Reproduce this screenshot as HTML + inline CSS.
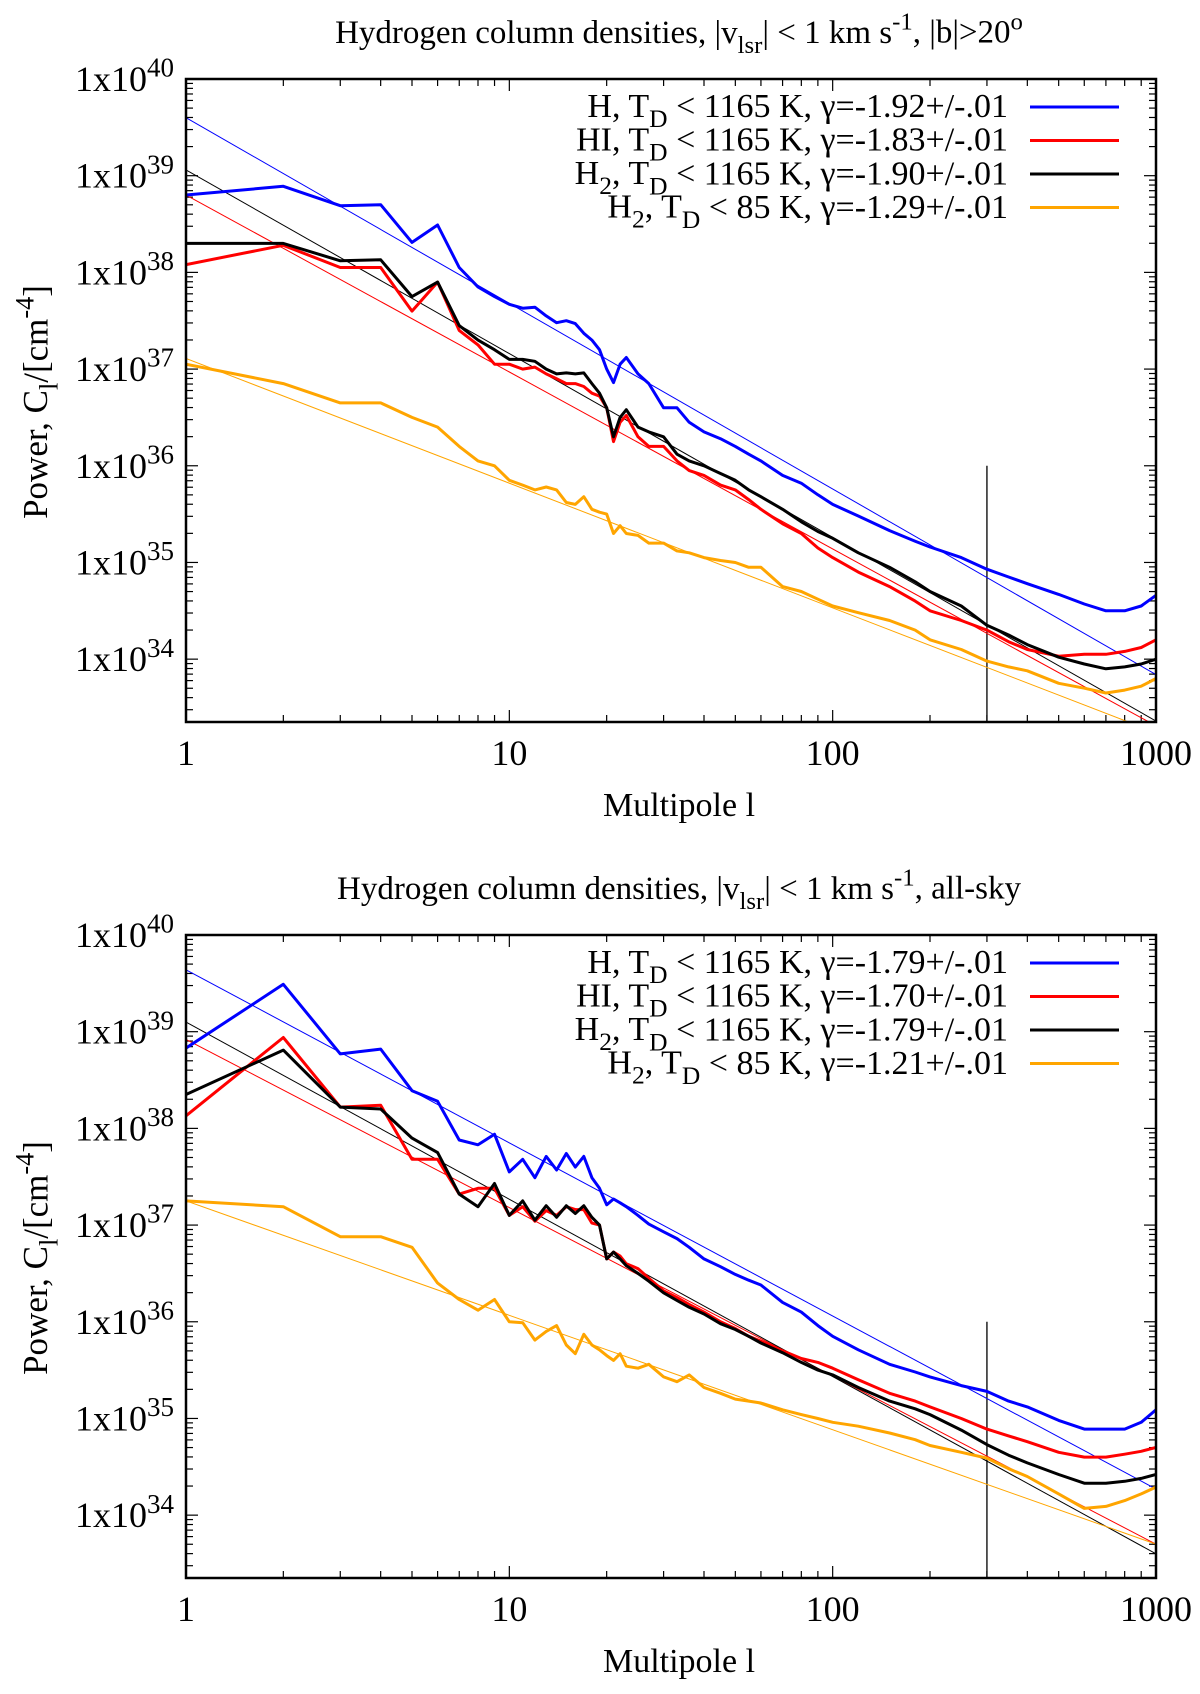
<!DOCTYPE html>
<html><head><meta charset="utf-8"><style>
html,body{margin:0;padding:0;background:#fff;}
svg{display:block;font-family:"Liberation Serif",serif;}
</style></head><body>
<svg id="chart" width="1200" height="1694" viewBox="0 0 1200 1694" xmlns="http://www.w3.org/2000/svg"></svg>
<script>
const multipoles = [1,2,3,4,5,6,7,8,9,10,11,12,13,14,15,16,17,18,19,20,21,22,23,25,27,30,33,36,40,45,50,55,60,70,80,90,100,120,150,180,200,250,300,350,400,500,600,700,800,900,1000];
const topH  = [38.8,38.89,38.69,38.7,38.31,38.49,38.05,37.85,37.75,37.67,37.63,37.64,37.55,37.48,37.5,37.47,37.37,37.3,37.2,37.0,36.86,37.05,37.12,36.95,36.85,36.6,36.6,36.45,36.35,36.28,36.2,36.12,36.05,35.9,35.82,35.7,35.6,35.48,35.33,35.22,35.16,35.05,34.93,34.85,34.78,34.67,34.57,34.5,34.5,34.55,34.66];
const topHI = [38.08,38.28,38.05,38.05,37.6,37.9,37.4,37.25,37.05,37.05,37.0,37.02,36.95,36.9,36.85,36.85,36.82,36.75,36.72,36.6,36.25,36.45,36.52,36.3,36.2,36.2,36.05,35.95,35.9,35.8,35.75,35.65,35.55,35.4,35.3,35.15,35.05,34.9,34.75,34.6,34.5,34.4,34.3,34.18,34.1,34.03,34.05,34.05,34.08,34.12,34.2];
const topH2 = [38.3,38.3,38.12,38.13,37.75,37.9,37.45,37.3,37.2,37.1,37.1,37.08,37.0,36.95,36.96,36.95,36.96,36.85,36.75,36.6,36.3,36.5,36.58,36.4,36.35,36.3,36.12,36.05,36.0,35.92,35.85,35.75,35.68,35.55,35.42,35.32,35.25,35.1,34.95,34.8,34.7,34.55,34.35,34.25,34.15,34.02,33.95,33.9,33.92,33.95,34.0];
const topCold = [37.05,36.85,36.65,36.65,36.5,36.4,36.2,36.05,36.0,35.85,35.8,35.75,35.78,35.75,35.62,35.6,35.68,35.55,35.52,35.5,35.3,35.38,35.3,35.28,35.2,35.2,35.12,35.1,35.05,35.02,35.0,34.95,34.95,34.75,34.7,34.62,34.55,34.48,34.4,34.3,34.2,34.1,33.98,33.92,33.88,33.75,33.7,33.65,33.68,33.72,33.8];
const botH  = [38.83,39.49,38.77,38.82,38.39,38.28,37.88,37.83,37.94,37.55,37.68,37.49,37.71,37.57,37.74,37.6,37.71,37.49,37.38,37.21,37.27,37.23,37.19,37.1,37.01,36.93,36.86,36.77,36.65,36.57,36.49,36.43,36.38,36.2,36.1,35.96,35.85,35.71,35.56,35.48,35.43,35.34,35.28,35.18,35.12,34.98,34.89,34.89,34.89,34.96,35.09];
const botHI = [38.13,38.94,38.22,38.24,37.68,37.68,37.32,37.38,37.38,37.1,37.19,37.04,37.15,37.1,37.19,37.16,37.16,37.02,37.0,36.65,36.72,36.68,36.6,36.55,36.45,36.32,36.25,36.18,36.1,36.0,35.93,35.85,35.8,35.7,35.62,35.58,35.52,35.4,35.26,35.18,35.12,35.0,34.89,34.82,34.76,34.65,34.6,34.6,34.63,34.66,34.7];
const botH2 = [38.35,38.81,38.22,38.2,37.9,37.75,37.32,37.19,37.43,37.1,37.25,37.05,37.2,37.08,37.2,37.12,37.2,37.08,37.0,36.65,36.72,36.65,36.58,36.5,36.42,36.3,36.22,36.15,36.08,35.98,35.92,35.85,35.78,35.68,35.58,35.5,35.45,35.32,35.18,35.1,35.04,34.88,34.73,34.62,34.54,34.42,34.33,34.33,34.35,34.38,34.42];
const botCold = [37.25,37.19,36.88,36.88,36.77,36.4,36.23,36.12,36.23,36.0,35.99,35.81,35.9,35.96,35.76,35.67,35.87,35.76,35.71,35.65,35.6,35.67,35.54,35.52,35.56,35.43,35.38,35.45,35.32,35.26,35.2,35.18,35.16,35.09,35.04,35.0,34.96,34.92,34.85,34.78,34.72,34.65,34.59,34.48,34.4,34.22,34.07,34.09,34.15,34.22,34.29];
const topFitStart = [39.6,38.8,39.06,37.11];
const topFitEnd = [33.84,33.31,33.36,33.24];
const botFitStart = [39.64,38.92,39.1,37.25];
const botFitEnd = [34.27,33.7,33.6,33.7];
const topGammas = ["-1.92","-1.83","-1.90","-1.29"];
const botGammas = ["-1.79","-1.70","-1.79","-1.21"];
const yTickExps = [34,35,36,37,38,39,40];
const xTickVals = [1,10,100,1000];
const cutoffL = 300;

const NS = "http://www.w3.org/2000/svg";
const svg = document.getElementById('chart');
const colors = ['#0000ff','#ff0000','#000000','#ffa500'];
function mk(tag, attrs, parent){const e=document.createElementNS(NS,tag);for(const k in attrs)e.setAttribute(k,attrs[k]);(parent||svg).appendChild(e);return e;}
function txt(parent, x, y, parts, size, anchor, name){
  const t=mk('text',{x:x,y:y,'font-size':size,'text-anchor':anchor||'middle',fill:'#000'},parent);
  
  
  parts.forEach(p=>{const s=mk('tspan',{},t);
    if(p[1]==='sub'){s.setAttribute('dy',size*0.3);s.setAttribute('font-size',size*0.75);}
    else if(p[1]==='sup'){s.setAttribute('dy',-size*0.4);s.setAttribute('font-size',size*0.75);}
    else if(p[1]==='back'){s.setAttribute('dy',p[2]);}
    s.textContent=p[0];});
  return t;
}
function panel(pi, top, series, fs, fe, gammas, titleParts){
  const L=186,R=1156,T=top,B=top+643,ymin=33.35,ymax=40;
  const X=l=>L+(Math.log10(l)/3)*(R-L);
  const Y=v=>T+(ymax-v)/(ymax-ymin)*(B-T);
  const g=mk('g',{});
  
  
  const cp=mk('clipPath',{id:'cp'+pi},g); mk('rect',{x:L,y:T,width:R-L,height:B-T},cp);
  txt(g,679,T-36,titleParts,33,'middle','chart-title');
  const tk=mk('g',{stroke:'#000','stroke-width':1.2},g);
  
  
  for(let d=0;d<3;d++)for(let m=1;m<=9;m++){const l=Math.pow(10,d)*m;const x=X(l);const len=m===1?12:7;
    mk('line',{x1:x,y1:B,x2:x,y2:B-len},tk);mk('line',{x1:x,y1:T,x2:x,y2:T+len},tk);}
  for(let e=33;e<=40;e++)for(let m=1;m<=9;m++){const v=e+Math.log10(m);if(v<ymin||v>ymax)continue;const y=Y(v);const len=m===1?12:7;
    mk('line',{x1:L,y1:y,x2:L+len,y2:y},tk);mk('line',{x1:R,y1:y,x2:R-len,y2:y},tk);}
  yTickExps.forEach(e=>{txt(g,L-12,Y(e)+12,[['1x10'],[String(e),'sup']],36,'end','y-tick-label');});
  xTickVals.forEach(l=>{txt(g,X(l),T+686,[[String(l)]],36,'middle','x-tick-label');});
  txt(g,679,T+737,[['Multipole l']],34,'middle','x-axis-title');
  const yl=txt(g,0,0,[['Power,  C'],['l','sub'],['/[cm','back',-10],['-4','sup'],[']','back',14]],35,'middle','y-axis-title');
  yl.setAttribute('transform','translate(47,'+(T+323)+') rotate(-90)');
  const cl=mk('line',{x1:X(cutoffL),y1:Y(36),x2:X(cutoffL),y2:B,stroke:'#000','stroke-width':1.3},g);
  
  
  const pg=mk('g',{'clip-path':'url(#cp'+pi+')'},g);
  series.forEach((s,i)=>{
    const f=mk('line',{x1:X(1),y1:Y(fs[i]),x2:X(1000),y2:Y(fe[i]),stroke:colors[i],'stroke-width':1},pg);
    
    
  });
  series.forEach((s,i)=>{
    const d=s.map((v,k)=>(k?'L':'M')+X(multipoles[k]).toFixed(1)+' '+Y(v).toFixed(1)).join(' ');
    const p=mk('path',{d:d,fill:'none',stroke:colors[i],'stroke-width':3,'stroke-linejoin':'round'},pg);
    
    
  });
  const labels=[[['H, T'],['D','sub'],[' < 1165 K, γ='+gammas[0]+'+/-.01','back',-10]],
    [['HI, T'],['D','sub'],[' < 1165 K, γ='+gammas[1]+'+/-.01','back',-10]],
    [['H'],['2','sub'],[', T','back',-10],['D','sub'],[' < 1165 K, γ='+gammas[2]+'+/-.01','back',-10]],
    [['H'],['2','sub'],[', T','back',-10],['D','sub'],[' < 85 K, γ='+gammas[3]+'+/-.01','back',-10]]];
  labels.forEach((lb,i)=>{const y=T+28+i*33.5;
    txt(g,1008,y+10,lb,34,'end','legend-entry-'+i);
    const ll=mk('line',{x1:1030,y1:y,x2:1119,y2:y,stroke:colors[i],'stroke-width':3},g);
    
    
  });
  const fr=mk('rect',{x:L,y:T,width:R-L,height:B-T,fill:'none',stroke:'#000','stroke-width':2.5},g);
  
  
}
panel(0,79,[topH,topHI,topH2,topCold],topFitStart,topFitEnd,topGammas,
  [['Hydrogen column densities, |v'],['lsr','sub'],['| < 1 km s','back',-10],['-1','sup'],[', |b|>20','back',13],['o','sup']]);
panel(1,935,[botH,botHI,botH2,botCold],botFitStart,botFitEnd,botGammas,
  [['Hydrogen column densities,  |v'],['lsr','sub'],['| < 1 km s','back',-10],['-1','sup'],[', all-sky','back',13]]);
</script>
</body></html>
